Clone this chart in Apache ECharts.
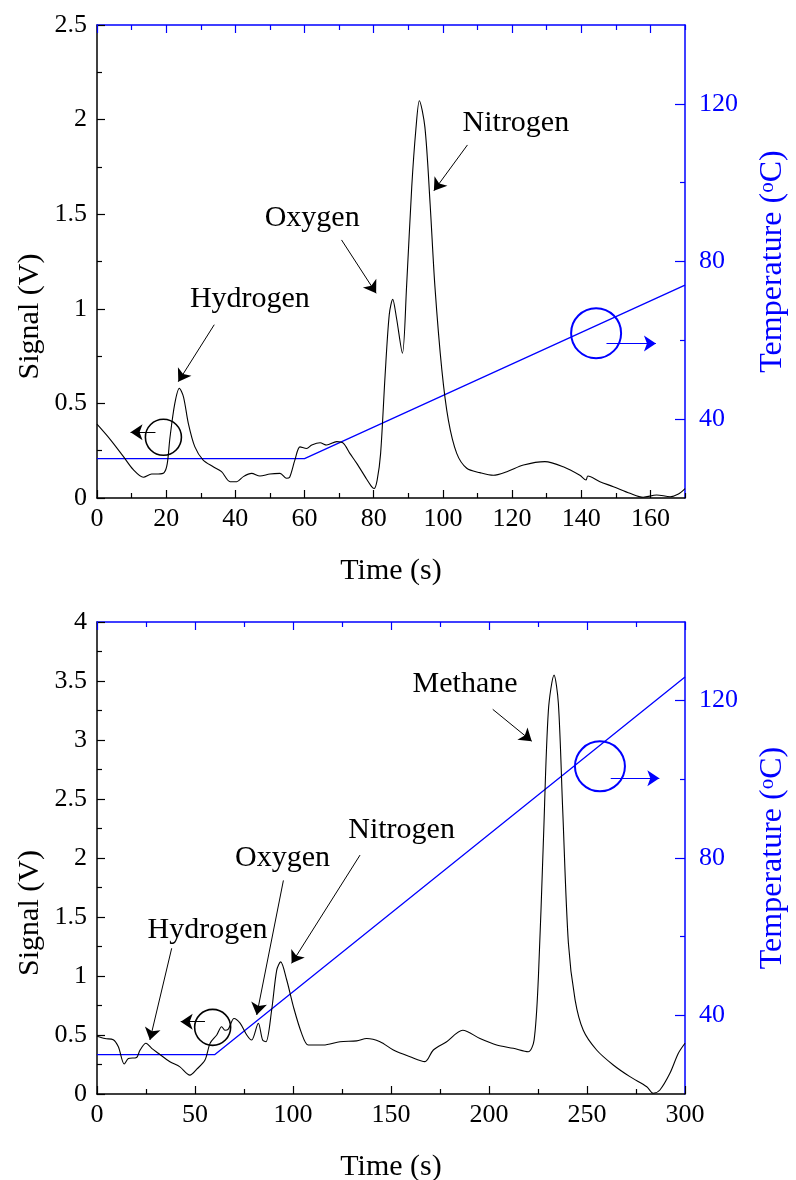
<!DOCTYPE html>
<html>
<head>
<meta charset="utf-8">
<script src="https://cdn.jsdelivr.net/npm/echarts@6/dist/echarts.min.js"></script>
<style>
  html, body { margin: 0; padding: 0; background: #fff; }
  #chart { width: 796px; height: 1180px; }
</style>
</head>
<body>
<div id="chart"></div>
<script>
const FONT = '"Liberation Serif", "Times New Roman", serif';
const BLUE = '#0000ff';
const BLACK = '#000000';

// ---- Run 1 (0–170 s) ----
const run1Time = [0, 3.8, 7.6, 10.5, 13.4, 15.8, 17.7, 19.4, 20.3, 21.1, 22.5, 23.8, 25, 26.4, 28.3,
  30.7, 33.6, 36, 38.5, 40.4, 42.3, 44.7, 47.1, 50, 52.9, 54.8, 55.7, 57.2, 58.7, 60.6,
  62.1, 64.5, 66.4, 69.3, 71.2, 73.1, 75.1, 77.5, 79.4, 80.1, 81, 82, 83.3, 84.5, 85.5,
  86.6, 88.3, 89.5, 91, 92.2, 93.2, 94.8, 96.3, 97.7, 99.7, 101.6, 104, 106.9, 110.7, 114.6,
  118.5, 123.3, 129.5, 134.8, 139.6, 141.4, 141.9, 145.4, 149.3, 154.1, 157.9, 161.8, 165.7, 168.1, 170];
const run1Signal = [0.39, 0.31, 0.22, 0.15, 0.11, 0.127, 0.127, 0.134, 0.18, 0.32, 0.50, 0.58, 0.535, 0.395, 0.27,
  0.20, 0.165, 0.139, 0.086, 0.086, 0.113, 0.13, 0.116, 0.127, 0.13, 0.104, 0.11, 0.20, 0.27, 0.262,
  0.28, 0.292, 0.28, 0.298, 0.29, 0.236, 0.183, 0.113, 0.06, 0.05, 0.095, 0.236, 0.65, 0.97, 1.05,
  0.95, 0.765, 1.117, 1.645, 1.95, 2.1, 1.96, 1.557, 1.117, 0.677, 0.41, 0.236, 0.157, 0.134, 0.12,
  0.139, 0.174, 0.192, 0.165, 0.12, 0.095, 0.116, 0.086, 0.06, 0.025, 0.004, 0.016, 0.007, 0.021, 0.05];
const run1TempTime = [0, 60, 170];
const run1Temp = [30, 30, 74];
const run1XMajor = [0, 20, 40, 60, 80, 100, 120, 140, 160];
const run1XMinor = [10, 30, 50, 70, 90, 110, 130, 150, 170];
const run1YMax = 2.5;

// Peak names and their arrows (time, signal)
const run1PeakNames = ['Hydrogen', 'Oxygen', 'Nitrogen'];
const run1NameAt = [[44.2, 1.05], [62.2, 1.48], [121.1, 1.98]];
const run1ArrowFrom = [[33.9, 0.916], [70.7, 1.364], [107.1, 1.866]];
const run1ArrowTo = [[23.5, 0.615], [80.7, 1.082], [97.4, 1.624]];
// Axis markers: signal circle (time, V) with arrow to the left axis,
// temperature circle (time, °C) with arrow to the right axis
const run1SignalMark = [19.2, 0.321];
const run1SignalArrow = [[16.9, 0.347], [9.7, 0.347]];
const run1TempMark = [144.3, 61.8];
const run1TempArrow = [[147.3, 59.2], [161.6, 59.2]];

// ---- Run 2 (0–300 s) ----
const run2Time = [0, 4.1, 8.3, 10.9, 13.9, 16, 20.2, 21.9, 25, 27.9, 31.3, 37.2, 42.3, 47.4, 50.9,
  55.1, 57.7, 61.1, 63.6, 65.3, 67, 69.9, 73, 76.4, 78.9, 82.3, 84.5, 86.2, 89.1, 91.7,
  93.7, 96.8, 100.2, 104.4, 107.8, 115.5, 124, 132.5, 137.6, 144.4, 151.2, 159.7, 167.3, 171.6, 178.4,
  186.6, 195.4, 203.9, 212.4, 220, 223, 225.2, 227.7, 230.3, 233.2, 235.4, 237.6, 240.5, 243.9, 248.1,
  254.9, 263.4, 271.9, 280.5, 283.8, 287.2, 292.3, 296.6, 300];
const run2Signal = [0.49, 0.47, 0.46, 0.40, 0.254, 0.30, 0.31, 0.37, 0.43, 0.387, 0.345, 0.274, 0.23, 0.16, 0.21,
  0.288, 0.43, 0.50, 0.57, 0.54, 0.55, 0.64, 0.60, 0.50, 0.457, 0.60, 0.457, 0.443, 0.71, 1.05,
  1.12, 0.966, 0.74, 0.514, 0.415, 0.415, 0.443, 0.45, 0.47, 0.443, 0.373, 0.316, 0.274, 0.373, 0.443,
  0.54, 0.47, 0.415, 0.387, 0.358, 0.457, 0.99, 2.12, 3.25, 3.55, 3.31, 2.41, 1.28, 0.80, 0.54,
  0.373, 0.246, 0.147, 0.062, 0.006, 0.034, 0.175, 0.345, 0.43];
const run2TempTime = [0, 60, 300];
const run2Temp = [30, 30, 126];
const run2XMajor = [0, 50, 100, 150, 200, 250, 300];
const run2XMinor = [25, 75, 125, 175, 225, 275];
const run2YMax = 4;

const run2PeakNames = ['Hydrogen', 'Oxygen', 'Nitrogen', 'Methane'];
const run2NameAt = [[56.4, 1.39], [94.7, 2.0], [155.4, 2.24], [187.8, 3.47]];
const run2ArrowFrom = [[38.1, 1.235], [95.1, 1.81], [134.2, 2.025], [201.9, 3.26]];
const run2ArrowTo = [[27, 0.458], [81.5, 0.67], [99.3, 1.107], [221.8, 2.99]];
const run2SignalMark = [59, 0.565];
const run2SignalArrow = [[55.1, 0.613], [42.7, 0.613]];
const run2TempMark = [256.6, 103.3];
const run2TempArrow = [[262.1, 100.3], [286.9, 100.3]];

// Temperature axis (shared by both panels)
const tempMin = 20, tempMax = 140;
const tempMajor = [40, 80, 120];
const tempMinor = [60, 100];

const zip = (xs, ys) => xs.map((x, i) => [x, ys[i]]);

const textBase = { fontFamily: FONT, fontSize: 26 };
const titleText = { fontFamily: FONT, fontSize: 30, color: BLACK };

function xAxesFor(g, max, major, minor) {
  const base = { gridIndex: g, type: 'value', min: 0, max: max, splitLine: { show: false } };
  return [
    Object.assign({}, base, {
      position: 'bottom',
      axisLine: { show: true, onZero: false, lineStyle: { color: BLACK, width: 1.5 } },
      axisTick: { show: true, inside: true, length: 8, customValues: major, lineStyle: { color: BLACK, width: 1.2 } },
      axisLabel: Object.assign({ show: true, customValues: major, margin: 8, color: BLACK }, textBase),
      name: 'Time (s)', nameLocation: 'middle', nameGap: 58, nameMoveOverlap: false,
      nameTextStyle: titleText
    }),
    Object.assign({}, base, {
      position: 'bottom',
      axisLine: { show: false, onZero: false },
      axisTick: { show: true, inside: true, length: 5, customValues: minor, lineStyle: { color: BLACK, width: 1.2 } },
      axisLabel: { show: false }
    }),
    Object.assign({}, base, {
      position: 'top',
      axisLine: { show: true, onZero: false, lineStyle: { color: BLUE, width: 1.5 } },
      axisTick: { show: true, inside: true, length: 8, customValues: major, lineStyle: { color: BLUE, width: 1.2 } },
      axisLabel: { show: false }
    }),
    Object.assign({}, base, {
      position: 'top',
      axisLine: { show: false, onZero: false },
      axisTick: { show: true, inside: true, length: 5, customValues: minor, lineStyle: { color: BLUE, width: 1.2 } },
      axisLabel: { show: false }
    })
  ];
}

function yAxesFor(g, max) {
  return [
    {
      gridIndex: g, type: 'value', position: 'left', min: 0, max: max, interval: 0.5,
      splitLine: { show: false },
      axisLine: { show: true, onZero: false, lineStyle: { color: BLACK, width: 1.5 } },
      axisTick: { show: true, inside: true, length: 8, lineStyle: { color: BLACK, width: 1.2 } },
      minorTick: { show: true, splitNumber: 2, length: 5, lineStyle: { color: BLACK, width: 1.2 } },
      axisLabel: Object.assign({ show: true, margin: 10, color: BLACK }, textBase),
      name: 'Signal (V)', nameLocation: 'middle', nameRotate: 90, nameGap: 52, nameMoveOverlap: false,
      nameTextStyle: Object.assign({ padding: [0, 110, 0, 0] }, titleText)
    },
    {
      gridIndex: g, type: 'value', position: 'right', min: tempMin, max: tempMax,
      splitLine: { show: false },
      axisLine: { show: true, onZero: false, lineStyle: { color: BLUE, width: 1.5 } },
      axisTick: { show: true, inside: true, length: 10, customValues: tempMajor, lineStyle: { color: BLUE, width: 1.2 } },
      axisLabel: Object.assign({ show: true, customValues: tempMajor, margin: 14, color: BLUE }, textBase),
      name: '{t|Temperature (}{s|o}{t|C)}', nameLocation: 'middle', nameRotate: 90, nameGap: 72,
      nameMoveOverlap: false,
      nameTextStyle: {
        color: BLUE,
        rich: {
          t: { fontFamily: FONT, fontSize: 32, color: BLUE },
          s: { fontFamily: FONT, fontSize: 21, color: BLUE, verticalAlign: 'top', padding: [0, 0, 10, 0] }
        }
      }
    },
    {
      gridIndex: g, type: 'value', position: 'right', min: tempMin, max: tempMax,
      splitLine: { show: false },
      axisLine: { show: false, onZero: false },
      axisTick: { show: true, inside: true, length: 5, customValues: tempMinor, lineStyle: { color: BLUE, width: 1.2 } },
      axisLabel: { show: false }
    }
  ];
}

function arrowLines(froms, tos) {
  return froms.map((f, i) => [{ coord: f }, { coord: tos[i] }]);
}

function signalSeries(g, time, signal, names, nameAt, from, to, mark, markArrow) {
  const pts = names.map((n, i) => ({
    name: n, coord: nameAt[i], symbol: 'rect', symbolSize: 1,
    itemStyle: { color: 'rgba(0,0,0,0)' },
    label: { show: true, position: 'inside', formatter: '{b}', fontFamily: FONT, fontSize: 30, color: BLACK }
  }));
  pts.push({
    name: 'marker', coord: mark, symbol: 'circle', symbolSize: 36,
    itemStyle: { color: 'rgba(0,0,0,0)', borderColor: BLACK, borderWidth: 1.6 },
    label: { show: false }
  });
  return {
    type: 'line', name: 'Signal ' + (g + 1),
    xAxisIndex: g * 4, yAxisIndex: g * 3,
    data: zip(time, signal), showSymbol: false, smooth: 0.3,
    lineStyle: { color: BLACK, width: 1.1 }, itemStyle: { color: BLACK },
    silent: true, z: 3,
    markLine: {
      silent: true, symbol: ['none', 'arrow'], symbolSize: 12, precision: 3,
      lineStyle: { color: BLACK, width: 1, type: 'solid' }, label: { show: false },
      data: arrowLines(from.concat([markArrow[0]]), to.concat([markArrow[1]]))
    },
    markPoint: { silent: true, data: pts }
  };
}

function tempSeries(g, time, temp, mark, markArrow) {
  return {
    type: 'line', name: 'Temperature ' + (g + 1),
    xAxisIndex: g * 4, yAxisIndex: g * 3 + 1,
    data: zip(time, temp), showSymbol: false,
    lineStyle: { color: BLUE, width: 1.3 }, itemStyle: { color: BLUE },
    silent: true, z: 2,
    markLine: {
      silent: true, symbol: ['none', 'arrow'], symbolSize: 12, precision: 3,
      lineStyle: { color: BLUE, width: 1.2, type: 'solid' }, label: { show: false },
      data: [[{ coord: markArrow[0] }, { coord: markArrow[1] }]]
    },
    markPoint: {
      silent: true,
      data: [{
        name: 'marker', coord: mark, symbol: 'circle', symbolSize: 50,
        itemStyle: { color: 'rgba(0,0,0,0)', borderColor: BLUE, borderWidth: 2 },
        label: { show: false }
      }]
    }
  };
}

const chart = echarts.init(document.getElementById('chart'), null, { renderer: 'canvas' });
chart.setOption({
  animation: false,
  backgroundColor: '#ffffff',
  grid: [
    { left: 97, top: 25, width: 588, height: 473, containLabel: false, outerBoundsMode: 'none' },
    { left: 97, top: 622, width: 588, height: 472, containLabel: false, outerBoundsMode: 'none' }
  ],
  xAxis: xAxesFor(0, 170, run1XMajor, run1XMinor).concat(xAxesFor(1, 300, run2XMajor, run2XMinor)),
  yAxis: yAxesFor(0, run1YMax).concat(yAxesFor(1, run2YMax)),
  series: [
    tempSeries(0, run1TempTime, run1Temp, run1TempMark, run1TempArrow),
    signalSeries(0, run1Time, run1Signal, run1PeakNames, run1NameAt, run1ArrowFrom, run1ArrowTo, run1SignalMark, run1SignalArrow),
    tempSeries(1, run2TempTime, run2Temp, run2TempMark, run2TempArrow),
    signalSeries(1, run2Time, run2Signal, run2PeakNames, run2NameAt, run2ArrowFrom, run2ArrowTo, run2SignalMark, run2SignalArrow)
  ]
});
</script>
</body>
</html>
